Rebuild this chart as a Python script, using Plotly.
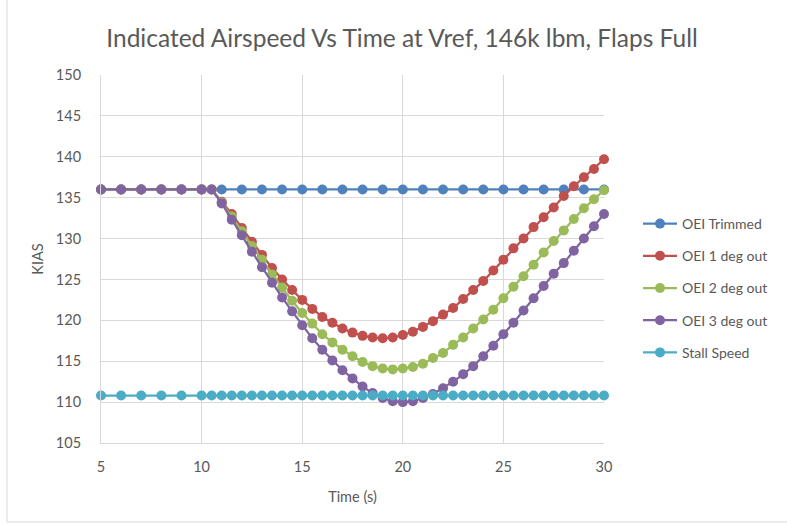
import plotly.graph_objects as go

# ---- data ----
time_trim = [5, 6, 7, 8, 9, 10, 11, 12, 13, 14, 15, 16, 17, 18, 19, 20,
             21, 22, 23, 24, 25, 26, 27, 28, 29, 30]
oei_trimmed = [136.0] * 26

time_dev = [5, 6, 7, 8, 9, 10, 10.5, 11, 11.5, 12, 12.5, 13, 13.5, 14, 14.5,
            15, 15.5, 16, 16.5, 17, 17.5, 18, 18.5, 19, 19.5, 20, 20.5, 21,
            21.5, 22, 22.5, 23, 23.5, 24, 24.5, 25, 25.5, 26, 26.5, 27, 27.5,
            28, 28.5, 29, 29.5, 30]

oei_1deg = [136.0, 136.0, 136.0, 136.0, 136.0, 136.0, 136.0, 134.5, 133.0,
            131.3, 129.6, 128.0, 126.4, 125.0, 123.7, 122.5, 121.4, 120.4,
            119.7, 119.0, 118.5, 118.1, 117.9, 117.8, 117.9, 118.2, 118.6,
            119.2, 119.9, 120.7, 121.5, 122.6, 123.7, 124.8, 126.1, 127.4,
            128.8, 130.0, 131.4, 132.6, 133.8, 135.2, 136.4, 137.5, 138.5,
            139.7]

oei_2deg = [136.0, 136.0, 136.0, 136.0, 136.0, 136.0, 136.0, 134.4, 132.7,
            130.9, 129.1, 127.4, 125.6, 124.0, 122.4, 120.9, 119.6, 118.3,
            117.3, 116.4, 115.6, 114.9, 114.4, 114.1, 114.0, 114.1, 114.3,
            114.7, 115.4, 116.0, 117.0, 117.9, 119.0, 120.1, 121.3, 122.7,
            124.1, 125.4, 126.8, 128.3, 129.7, 131.0, 132.4, 133.7, 134.8,
            135.9]

oei_3deg = [136.0, 136.0, 136.0, 136.0, 136.0, 136.0, 136.0, 134.3, 132.3,
            130.4, 128.4, 126.5, 124.6, 122.8, 121.1, 119.4, 117.8, 116.4,
            115.1, 113.9, 112.9, 111.9, 111.1, 110.5, 110.1, 110.0, 110.1,
            110.5, 111.0, 111.7, 112.5, 113.4, 114.4, 115.6, 116.9, 118.3,
            119.7, 121.2, 122.7, 124.2, 125.7, 127.0, 128.5, 130.0, 131.5,
            133.0]

stall_speed = [110.8] * 46

series = [
    ("OEI Trimmed", time_trim, oei_trimmed, "#4F81BD"),
    ("OEI 1 deg out", time_dev, oei_1deg, "#C0504D"),
    ("OEI 2 deg out", time_dev, oei_2deg, "#9BBB59"),
    ("OEI 3 deg out", time_dev, oei_3deg, "#8064A2"),
    ("Stall Speed", time_dev, stall_speed, "#4BACC6"),
]

FONT = "Lato"
GRAY = "#595959"

fig = go.Figure()
for i, (name, x, y, c) in enumerate(series):
    fig.add_trace(go.Scatter(
        x=x, y=y, name=name, mode="lines+markers",
        line=dict(color=c, width=2.25),
        marker=dict(color=c, size=10),
        cliponaxis=False, legendgroup=f"g{i}",
    ))

W, H = 787, 525
L, R, T, B = 101, 183, 75, 82
pw, ph = W - L - R, H - T - B

def px2paper(px, py):
    return (px - L) / pw, (H - B - py) / ph

x0, y0 = px2paper(7, 522)
x1, y1 = px2paper(800, -10)

fig.update_layout(
    width=W, height=H,
    margin=dict(l=L, r=R, t=T, b=B),
    paper_bgcolor="white", plot_bgcolor="white",
    font=dict(family=FONT, color=GRAY, size=14),
    title=dict(text="Indicated Airspeed Vs Time at Vref, 146k lbm, Flaps Full",
               x=(107 + 697) / 2 / W, xanchor="center", xref="container",
               y=1 - 38 / H, yanchor="middle",
               font=dict(family=FONT, size=24.5, color=GRAY)),
    xaxis=dict(range=[5, 30], tick0=5, dtick=5, showgrid=True,
               gridcolor="#D9D9D9", gridwidth=1, zeroline=False,
               showline=True, linecolor="#D9D9D9", linewidth=1,
               ticks="", ticklabelstandoff=11,
               tickfont=dict(size=14.5, color=GRAY),
               title=dict(text="Time (s)", font=dict(size=14.5, color=GRAY),
                          standoff=17)),
    yaxis=dict(range=[105, 150], tick0=105, dtick=5, showgrid=True,
               gridcolor="#D9D9D9", gridwidth=1, zeroline=False,
               showline=True, linecolor="#D9D9D9", linewidth=1,
               ticks="", ticklabelstandoff=16,
               tickfont=dict(size=14.5, color=GRAY),
               title=dict(text="KIAS", font=dict(size=14.5, color=GRAY),
                          standoff=8)),
    showlegend=True,
    legend=dict(x=(638 - L) / pw, xanchor="left",
                y=(H - B - 208) / ph, yanchor="top",
                font=dict(size=14, color=GRAY),
                tracegroupgap=11, itemwidth=34,
                borderwidth=0,
                bgcolor="rgba(0,0,0,0)"),
    shapes=[dict(type="rect", xref="paper", yref="paper",
                 x0=x0, y0=y0, x1=x1, y1=y1,
                 line=dict(color="#D9D9D9", width=1), layer="below")],
)

fig.write_html("out.html")
